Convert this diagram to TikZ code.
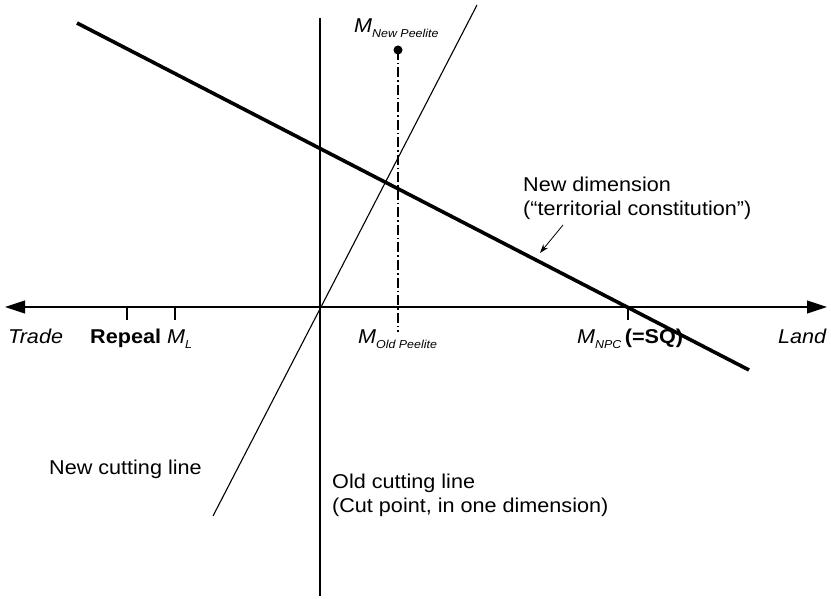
\documentclass[tikz,border=0pt]{standalone}
\usepackage{fontspec}
\setmainfont[FakeStretch=1.08]{Liberation Sans}
\usetikzlibrary{arrows.meta}
\newcommand{\Msub}[1]{\textit{M}\raisebox{-0.25em}{\fontsize{11.5}{12}\selectfont\textit{#1}}}
\begin{document}
\begin{tikzpicture}[x=1pt,y=-1pt,
  lbl/.style={anchor=base west,inner sep=0pt,font=\fontsize{20}{24}\selectfont},
  axisline/.style={line width=1.2pt,{Triangle[length=20pt,width=13pt]}-{Triangle[length=20pt,width=13pt]}},
  thinline/.style={line width=1.1pt},
  thickline/.style={line width=3.6pt},
  dashdot/.style={line width=2pt,dash pattern=on 10pt off 3pt on 1.5pt off 3pt},
  tickmark/.style={line width=1.1pt}]
\useasboundingbox (0,0) rectangle (831,599);
% coordinates
\coordinate (axL) at (5,307);
\coordinate (axR) at (827,307);
\coordinate (vT) at (320,18);
\coordinate (vB) at (320,596);
\coordinate (nT) at (477,5);
\coordinate (nB) at (213,516);
\coordinate (dA) at (77,23);
\coordinate (dB) at (749,370);
\coordinate (pB) at (398,332);
\coordinate (t1a) at (127,307); \coordinate (t1b) at (127,320);
\coordinate (t2a) at (175,307); \coordinate (t2b) at (175,320);
\coordinate (t3a) at (628,307); \coordinate (t3b) at (628,320);
\coordinate (arA) at (563,225);
\coordinate (arB) at (540,253);
% lines
\draw[axisline] (axL) -- (axR);
\draw[thinline] (vT) -- (vB);
\draw[thinline] (nB) -- (nT);
\node[circle,fill,inner sep=0pt,minimum size=9pt] (dot) at (398,50) {};
\draw[dashdot] (dot.center) -- (pB);
\draw[thickline] (dA) -- (dB);
\draw[tickmark] (t1a) -- (t1b);
\draw[tickmark] (t2a) -- (t2b);
\draw[tickmark] (t3a) -- (t3b);
\draw[line width=0.8pt,-{Stealth[length=9pt,width=6pt]}] (arA) -- (arB);
% labels
\node[lbl] (trade) at (8,343) {\textit{Trade}};
\node[lbl] (repeal) at (90,343) {\textbf{Repeal}};
\node[lbl] (ml) at (167,343) {\Msub{L}};
\node[lbl] (mold) at (358,343) {\Msub{Old Peelite}};
\node[lbl] (mnpc) at (577,343) {\Msub{NPC}\,\textbf{(=SQ)}};
\node[lbl] (land) at (778,343) {\textit{Land}};
\node[lbl] (mnew) at (354,33) {\Msub{New Peelite}};
\node[lbl] (nd1) at (523,192) {New dimension};
\node[lbl] (nd2) at (523,216) {(``territorial constitution'')};
\node[lbl] (ncl) at (49,474) {New cutting line};
\node[lbl] (ocl1) at (332,488) {Old cutting line};
\node[lbl] (ocl2) at (332,512) {(Cut point, in one dimension)};
\end{tikzpicture}
\end{document}
